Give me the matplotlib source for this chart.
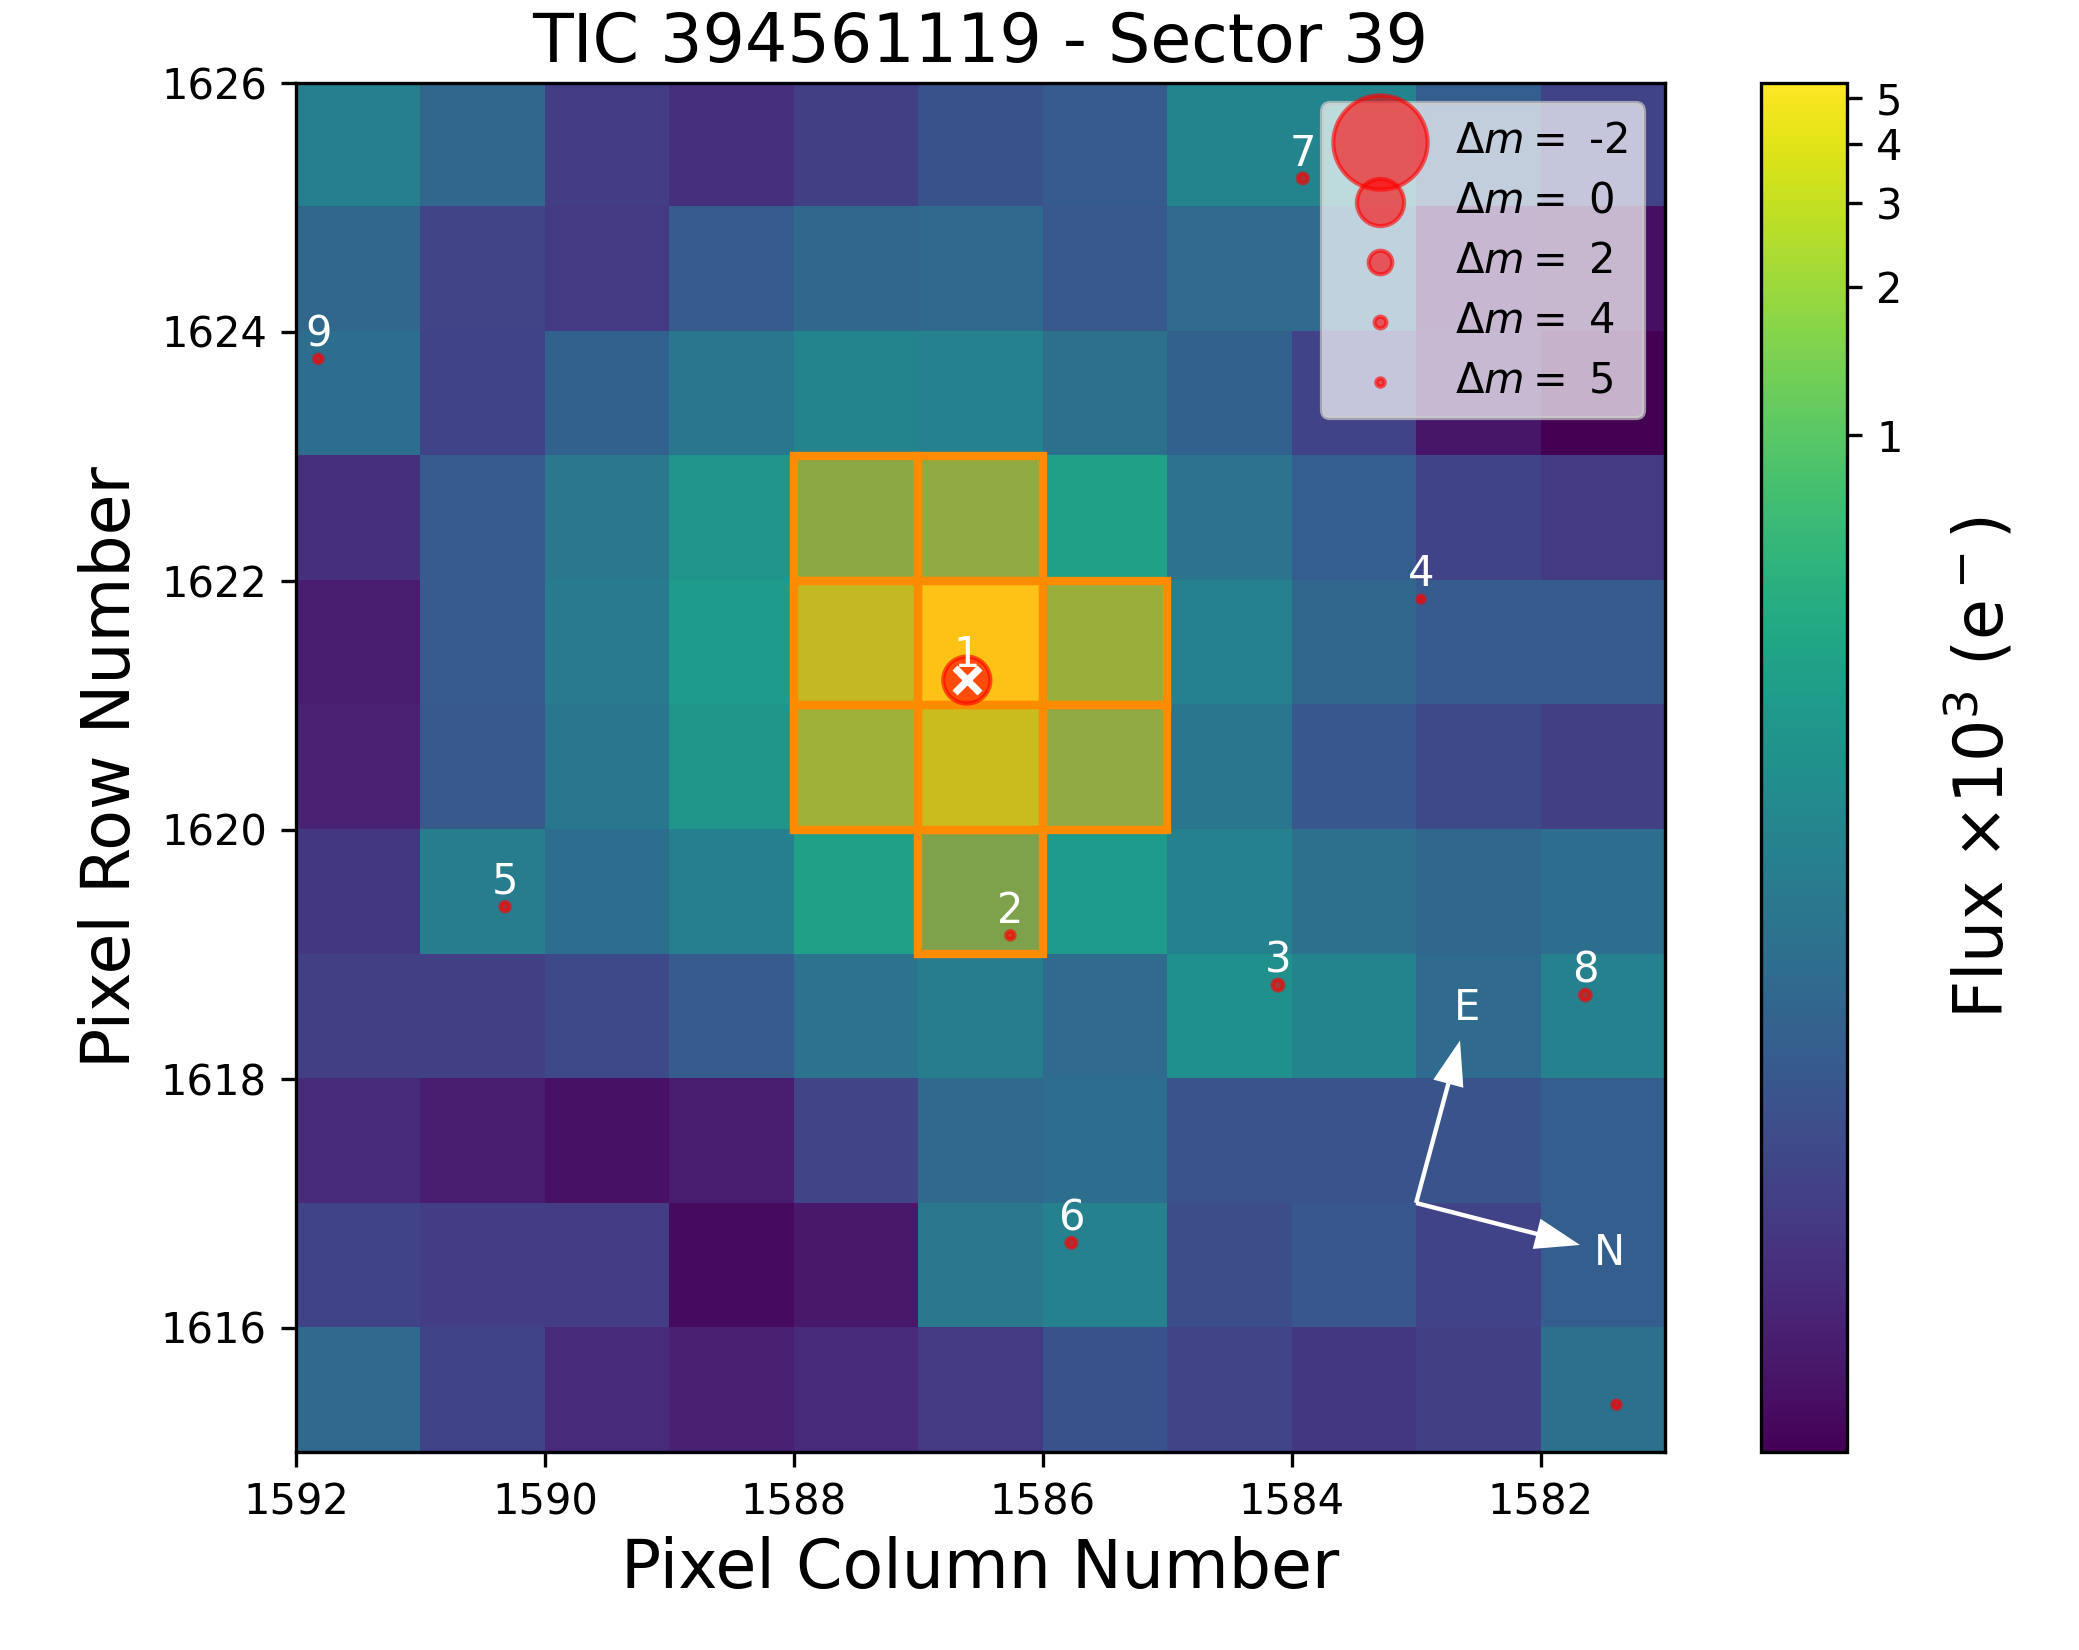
import numpy as np
import matplotlib
matplotlib.use('Agg')
import matplotlib.pyplot as plt
from matplotlib.colors import FuncNorm
from matplotlib.patches import Rectangle

# flux in units of 1e3 e-, rows from 1625 (top) down to 1615
row_1625 = [.2087, .1568, .1232, .1187, .1245, .1347, .1442, .2241, .2241, .1470, .1259]
row_1624 = [.1568, .1274, .1219, .1442, .1568, .1606, .1416, .1646, .1646, .1122, .1117]
row_1623 = [.1686, .1259, .1501, .1836, .2241, .2161, .1734, .1501, .1259, .1127, .1100]
row_1622 = [.1187, .1442, .1892, .2981, .731, .824, .3781, .1782, .1470, .1259, .1219]
row_1621 = [.1139, .1442, .1953, .3429, 1.997, 5.41, .99, .2161, .1568, .1442, .1442]
row_1620 = [.1153, .1416, .1836, .312, 1.12, 2.28, .824, .1836, .139, .129, .1245]
row_1619 = [.1208, .2017, .1686, .2087, .3781, .519, .3429, .2161, .1734, .1568, .1686]
row_1618 = [.1245, .1245, .129, .1442, .1782, .2017, .1646, .2731, .2241, .1646, .2161]
row_1617 = [.1169, .1139, .1122, .1139, .1274, .1606, .1686, .137, .137, .137, .147]
row_1616 = [.1259, .1232, .1232, .1112, .1133, .1892, .2161, .1325, .139, .1259, .147]
row_1615 = [.1606, .1259, .1169, .1146, .1169, .1219, .1347, .1274, .1208, .1245, .1734]

# aperture pixels
ap_cols = [1587, 1586, 1587, 1586, 1585, 1587, 1586, 1585, 1586]
ap_rows = [1622, 1622, 1621, 1621, 1621, 1620, 1620, 1620, 1619]

# gaia sources
star_x = [1586.61, 1586.26, 1584.11, 1582.96, 1590.32, 1585.77, 1583.91, 1581.64, 1591.82, 1581.39]
star_y = [1621.20, 1619.15, 1618.75, 1621.85, 1619.38, 1616.68, 1625.23, 1618.67, 1623.78, 1615.38]
star_dm = [0, 5.0, 4.2, 5.5, 4.7, 4.5, 4.5, 4.3, 5.0, 5.0]
star_lab = ['1', '2', '3', '4', '5', '6', '7', '8', '9']

legend_dm = [-2, 0, 2, 4, 5]
cbar_ticks = [1, 2, 3, 4, 5]
vmin, vmax = 0.11, 5.41


def stretch(v):
    return np.log(1000 * (np.asarray(v) - vmin) / (vmax - vmin) + 1) / np.log(1001)


def unstretch(y):
    return (1001 ** np.asarray(y) - 1) / 1000 * (vmax - vmin) + vmin


flux = np.array([row_1625, row_1624, row_1623, row_1622, row_1621, row_1620,
                 row_1619, row_1618, row_1617, row_1616, row_1615])

fig = plt.figure(figsize=(6.93, 5.5), dpi=300)
ax = fig.add_axes([296 / 2079, 0.12, 1369 / 2079, 0.83])
cax = fig.add_axes([1760.5 / 2079, 0.12, 86.5 / 2079, 0.83])

norm = FuncNorm((stretch, unstretch), vmin=vmin, vmax=vmax)
im = ax.imshow(flux, cmap='viridis', norm=norm, origin='upper',
               extent=[1592, 1581, 1615, 1626], aspect='auto', interpolation='nearest')

for c, r in zip(ap_cols, ap_rows):
    ax.add_patch(Rectangle((c, r), 1, 1, facecolor=(1, 0.549, 0, 0.4),
                           edgecolor='darkorange', lw=2, zorder=3))

ax.scatter(star_x, star_y, s=[128 / 2 ** d for d in star_dm], c='red', alpha=0.6, zorder=5)
ax.scatter(star_x[0], star_y[0], marker='x', c='white', s=36, linewidths=1.7, zorder=6)
for x, y, lab in zip(star_x, star_y, star_lab):
    ax.text(x, y + 0.03, lab, color='white', fontsize=10, ha='center', va='bottom', zorder=7)

# compass
ax.arrow(1583.0, 1617.0, -0.353, 1.306, width=0.035, head_width=0.25, head_length=0.36,
         length_includes_head=True, fc='white', ec='white', lw=0, zorder=6)
ax.arrow(1583.0, 1617.0, -1.317, -0.337, width=0.035, head_width=0.25, head_length=0.36,
         length_includes_head=True, fc='white', ec='white', lw=0, zorder=6)
ax.text(1582.59, 1618.57, 'E', color='white', fontsize=10, ha='center', va='center')
ax.text(1581.45, 1616.60, 'N', color='white', fontsize=10, ha='center', va='center')

for d in legend_dm:
    ax.scatter([], [], s=128 / 2 ** d, c='red', alpha=0.6, label=r'$\Delta m=$ %d' % d)
leg = ax.legend(loc='upper right', fontsize=10, framealpha=0.7, labelspacing=0.43)
leg.set_zorder(20)

ax.set_xlim(1592, 1581)
ax.set_ylim(1615, 1626)
ax.set_xticks([1592, 1590, 1588, 1586, 1584, 1582])
ax.set_yticks([1616, 1618, 1620, 1622, 1624, 1626])
ax.tick_params(labelsize=10)
ax.set_xlabel('Pixel Column Number', fontsize=16, labelpad=3)
ax.set_ylabel('Pixel Row Number', fontsize=16)
ax.set_title('TIC 394561119 - Sector 39', fontsize=16, pad=5)

cb = fig.colorbar(im, cax=cax)
cb.set_ticks(cbar_ticks)
cb.set_ticklabels([str(t) for t in cbar_ticks])
cb.ax.minorticks_off()
cb.ax.tick_params(labelsize=10)
cb.set_label(r'Flux $\times 10^3$ (e$^-$)', fontsize=16, labelpad=10)

plt.savefig('out.png')
